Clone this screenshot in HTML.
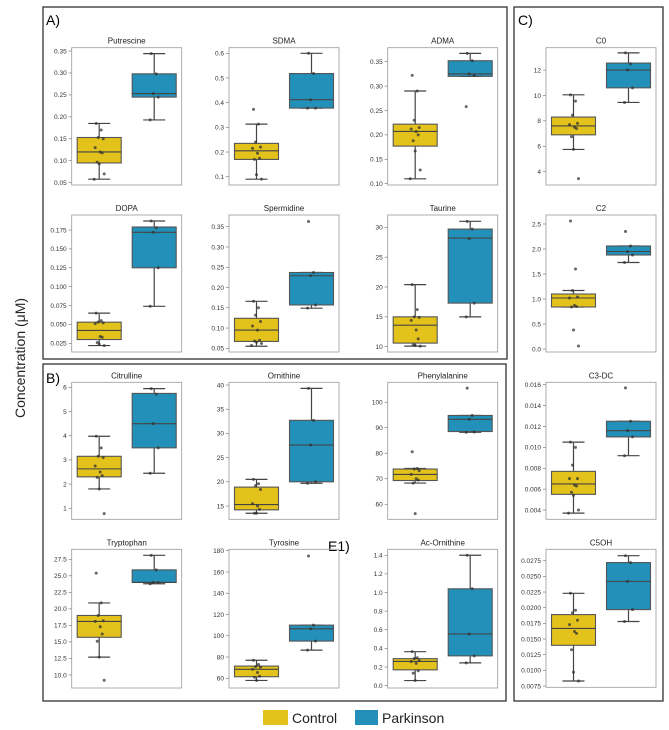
<!DOCTYPE html>
<html><head><meta charset="utf-8">
<style>
html,body{margin:0;padding:0;background:#fff;}
svg{display:block;font-family:"Liberation Sans","DejaVu Sans",sans-serif;}
</style></head>
<body>
<svg id="fig" width="669" height="730" viewBox="0 0 669 730" xmlns="http://www.w3.org/2000/svg">
  <rect x="43" y="7" width="464" height="352" fill="none" stroke="#333" stroke-width="1.3"/>
  <rect x="43" y="364" width="463" height="337" fill="none" stroke="#333" stroke-width="1.3"/>
  <rect x="514" y="7" width="149" height="694" fill="none" stroke="#333" stroke-width="1.3"/>
  <text x="46" y="25" font-size="14">A)</text>
  <text x="46" y="383" font-size="14">B)</text>
  <text x="518" y="25" font-size="14">C)</text>
  <text x="328" y="551" font-size="14">E1)</text>
  <text transform="translate(25,358) rotate(-90)" text-anchor="middle" font-size="14" fill="#222">Concentration (μM)</text>
  <rect x="263" y="710" width="25" height="15" fill="#e2c21b"/>
  <text x="292" y="723" font-size="14" fill="#222">Control</text>
  <rect x="355" y="710" width="23" height="15" fill="#2290b8"/>
  <text x="382" y="723" font-size="14" fill="#222">Parkinson</text>
  <g id="plots"></g>
</svg>
<script>
// ---- data: box stats [whiskerLow, q1, median, q3, whiskerHigh], points, ticks ----
const putC=[0.058,0.095,0.12,0.153,0.185];
const putCpts=[0.185,0.17,0.153,0.15,0.13,0.12,0.118,0.097,0.093,0.07,0.058];
const putP=[0.193,0.245,0.253,0.298,0.344];
const putPpts=[0.344,0.298,0.253,0.245,0.193];
const putTicks=[0.05,0.10,0.15,0.20,0.25,0.30,0.35];

const sdmaC=[0.09,0.17,0.205,0.235,0.313];
const sdmaCpts=[0.373,0.313,0.24,0.22,0.215,0.195,0.175,0.17,0.108,0.09];
const sdmaP=[0.378,0.378,0.412,0.518,0.6];
const sdmaPpts=[0.6,0.518,0.412,0.378,0.378];
const sdmaTicks=[0.1,0.2,0.3,0.4,0.5,0.6];

const admaC=[0.11,0.177,0.207,0.222,0.29];
const admaCpts=[0.322,0.29,0.23,0.215,0.212,0.207,0.2,0.188,0.167,0.128,0.11];
const admaP=[0.32,0.32,0.325,0.352,0.367];
const admaPpts=[0.367,0.352,0.325,0.322,0.258];
const admaTicks=[0.10,0.15,0.20,0.25,0.30,0.35];

const dopaC=[0.022,0.03,0.042,0.053,0.065];
const dopaCpts=[0.065,0.055,0.053,0.052,0.051,0.034,0.033,0.026,0.024,0.022];
const dopaP=[0.074,0.125,0.172,0.179,0.187];
const dopaPpts=[0.187,0.178,0.172,0.125,0.074];
const dopaTicks=[0.025,0.050,0.075,0.100,0.125,0.150,0.175];

const sperC=[0.055,0.067,0.095,0.124,0.166];
const sperCpts=[0.166,0.15,0.132,0.116,0.105,0.095,0.07,0.068,0.065,0.062,0.057];
const sperP=[0.149,0.157,0.229,0.237,0.237];
const sperPpts=[0.363,0.237,0.229,0.157,0.149];
const sperTicks=[0.05,0.10,0.15,0.20,0.25,0.30,0.35];

const taurC=[10.1,10.6,13.6,15,20.4];
const taurCpts=[20.4,16.2,15,14.9,14.4,12.8,11.3,10.3,10.2,10.1];
const taurP=[15.0,17.3,28.2,29.7,31.0];
const taurPpts=[31.0,29.7,28.1,17.3,15.0];
const taurTicks=[10,15,20,25,30];

const citC=[1.8,2.3,2.63,3.15,3.98];
const citCpts=[3.98,3.5,3.15,3.1,2.75,2.5,2.35,2.28,1.8,0.78];
const citP=[2.45,3.5,4.5,5.75,5.95];
const citPpts=[5.95,5.72,4.5,3.5,2.45];
const citTicks=[1,2,3,4,5,6];

const ornC=[13.5,14.2,15.3,18.9,20.5];
const ornCpts=[20.5,19.6,19.2,18.4,15.5,15.0,14.3,13.5,13.5];
const ornP=[19.7,20.0,27.6,32.7,39.3];
const ornPpts=[39.3,32.7,27.6,20.0,19.7];
const ornTicks=[15,20,25,30,35,40];

const pheC=[68.3,69.3,71.7,73.8,74.0];
const pheCpts=[80.6,74.0,73.8,73.2,71.7,70.0,69.5,68.3,56.3];
const pheP=[88.2,88.5,93.3,94.8,94.8];
const phePpts=[105.5,94.8,93.3,88.3,88.2];
const pheTicks=[60,70,80,90,100];

const trpC=[12.7,15.7,18.1,19.0,20.9];
const trpCpts=[25.4,20.9,19.0,18.2,18.1,17.3,16.2,15.1,12.7,9.2];
const trpP=[23.8,24.0,24.0,25.9,28.1];
const trpPpts=[28.1,25.9,24.0,24.0,23.8];
const trpTicks=[10.0,12.5,15.0,17.5,20.0,22.5,25.0,27.5];

const tyrC=[58,61.5,68.5,71.5,77];
const tyrCpts=[77,73,71,70.5,68.5,65.5,62,61,58];
const tyrP=[86.5,95,106.5,110,110];
const tyrPpts=[175,110,106.5,95,86.5];
const tyrTicks=[60,80,100,120,140,160,180];

const acoC=[0.055,0.17,0.26,0.29,0.365];
const acoCpts=[0.365,0.3,0.29,0.27,0.26,0.24,0.16,0.135,0.055];
const acoP=[0.245,0.32,0.555,1.04,1.4];
const acoPpts=[1.4,1.04,0.555,0.32,0.245];
const acoTicks=[0.0,0.2,0.4,0.6,0.8,1.0,1.2,1.4];

const c0C=[5.75,6.9,7.6,8.3,10.05];
const c0Cpts=[10.05,9.55,8.45,7.8,7.7,7.5,7.4,6.75,5.75,3.45];
const c0P=[9.45,10.6,12,12.55,13.35];
const c0Ppts=[13.35,12.5,12.0,10.6,9.45];
const c0Ticks=[4,6,8,10,12];

const c2C=[0.84,0.84,1.02,1.1,1.17];
const c2Cpts=[2.56,1.6,1.17,1.04,1.02,0.87,0.85,0.84,0.38,0.06];
const c2P=[1.73,1.88,1.95,2.06,2.06];
const c2Ppts=[2.35,2.06,1.95,1.88,1.73];
const c2Ticks=[0.0,0.5,1.0,1.5,2.0,2.5];

const c3C=[0.0037,0.0055,0.0065,0.0077,0.0105];
const c3Cpts=[0.0105,0.0100,0.0083,0.0070,0.0070,0.0064,0.0063,0.0057,0.0054,0.0040,0.0037];
const c3P=[0.0092,0.0110,0.0116,0.0125,0.0125];
const c3Ppts=[0.0157,0.0125,0.0116,0.0110,0.0092];
const c3Ticks=[0.004,0.006,0.008,0.010,0.012,0.014,0.016];

const c5C=[0.0083,0.014,0.0167,0.0189,0.0223];
const c5Cpts=[0.0223,0.0196,0.0192,0.018,0.0173,0.0162,0.0159,0.0133,0.0097,0.0083];
const c5P=[0.0178,0.0197,0.0242,0.0272,0.0283];
const c5Ppts=[0.0283,0.0272,0.0242,0.0197,0.0178];
const c5Ticks=[0.0075,0.0100,0.0125,0.0150,0.0175,0.0200,0.0225,0.0250,0.0275];

const NS="http://www.w3.org/2000/svg";
const plots=document.getElementById('plots');
function mk(tag,attrs,parent){const e=document.createElementNS(NS,tag);for(const k in attrs)e.setAttribute(k,attrs[k]);(parent||plots).appendChild(e);return e;}

// layout: [title, x0, x1, y0, y1, domainMin, domainMax, decimals, ...data]
const charts=[
 ["Putrescine",71.7,181.7,47.7,185,0.0448,0.3575,2,putC,putCpts,putP,putPpts,putTicks],
 ["SDMA",229,339,47.7,185,0.0664,0.6227,1,sdmaC,sdmaCpts,sdmaP,sdmaPpts,sdmaTicks],
 ["ADMA",387.7,497.7,47.7,185,0.0973,0.3787,2,admaC,admaCpts,admaP,admaPpts,admaTicks],
 ["DOPA",71.7,181.7,215,352,0.0135,0.1949,3,dopaC,dopaCpts,dopaP,dopaPpts,dopaTicks],
 ["Spermidine",229,339,215,352,0.0409,0.3789,2,sperC,sperCpts,sperP,sperPpts,sperTicks],
 ["Taurine",387.7,497.7,215,352,9.11,32.06,0,taurC,taurCpts,taurP,taurPpts,taurTicks],
 ["Citrulline",71.7,181.7,382.3,519.3,0.545,6.21,0,citC,citCpts,citP,citPpts,citTicks],
 ["Ornithine",229,339,382.3,519.3,12.25,40.56,0,ornC,ornCpts,ornP,ornPpts,ornTicks],
 ["Phenylalanine",387.7,497.7,382.3,519.3,54.1,107.8,0,pheC,pheCpts,pheP,phePpts,pheTicks],
 ["Tryptophan",71.7,181.7,549.3,688,8.03,29.01,1,trpC,trpCpts,trpP,trpPpts,trpTicks],
 ["Tyrosine",229,339,549.3,688,50.9,181.3,0,tyrC,tyrCpts,tyrP,tyrPpts,tyrTicks],
 ["Ac-Ornithine",387.7,497.7,549.3,688,-0.025,1.464,1,acoC,acoCpts,acoP,acoPpts,acoTicks],
 ["C0",546,656,47.7,185,2.95,13.76,0,c0C,c0Cpts,c0P,c0Ppts,c0Ticks],
 ["C2",546,656,215,352,-0.06,2.68,1,c2C,c2Cpts,c2P,c2Ppts,c2Ticks],
 ["C3-DC",546,656,382.3,519.3,0.00311,0.01623,3,c3C,c3Cpts,c3P,c3Ppts,c3Ticks],
 ["C5OH",546,656,549.3,687.3,0.0073,0.02932,4,c5C,c5Cpts,c5P,c5Ppts,c5Ticks]
];
const jit=[-3,2,-1,4,-4,1,3,-2,0,5,-5];

charts.forEach(ch=>{
  const [title,x0,x1,y0,y1,dmin,dmax,dec,cBox,cPts,pBox,pPts,ticks]=ch;
  const slug=title.toLowerCase().replace(/[^a-z0-9]+/g,'-');
  const g=mk('g',{});
  
  
  const y=v=>y1-(v-dmin)/(dmax-dmin)*(y1-y0);
  const w=x1-x0;
  const t=mk('text',{x:(x0+x1)/2,y:y0-4,'text-anchor':'middle','font-size':'8','fill':'#222'},g);
  t.textContent=title;
  
  
  ticks.forEach(v=>{
    const ty=y(v);
    const tl=mk('line',{x1:x0-3,x2:x0,y1:ty,y2:ty,stroke:'#666','stroke-width':0.6},g);
    
    
    const lb=mk('text',{x:x0-5,y:ty+2.3,'text-anchor':'end','font-size':'6.5','fill':'#333'},g);
    lb.textContent=v.toFixed(dec);
    
    
  });
  [[cBox,cPts,0.25,'#e2c21b','control'],[pBox,pPts,0.75,'#2290b8','parkinson']].forEach(([b,pts,f,col,nm])=>{
    const cx=x0+w*f, bw=w*0.4, cw=bw/2;
    const wl=mk('line',{x1:cx,x2:cx,y1:y(b[0]),y2:y(b[4]),stroke:'#444','stroke-width':1.2},g);
    
    
    [b[0],b[4]].forEach(v=>{
      const c=mk('line',{x1:cx-cw/2,x2:cx+cw/2,y1:y(v),y2:y(v),stroke:'#444','stroke-width':1.2},g);
      
      
    });
    const r=mk('rect',{x:cx-bw/2,y:y(b[3]),width:bw,height:Math.max(0.5,y(b[1])-y(b[3])),fill:col,stroke:'#555','stroke-width':1.1},g);
    
    
    const m=mk('line',{x1:cx-bw/2,x2:cx+bw/2,y1:y(b[2]),y2:y(b[2]),stroke:'#444','stroke-width':1.1},g);
    
    
    pts.forEach((v,i)=>{
      const p=mk('circle',{cx:cx+jit[i%jit.length],cy:y(v),r:1.5,fill:'#333','fill-opacity':0.75},g);
      
      
    });
  });
  const fr=mk('rect',{x:x0,y:y0,width:w,height:y1-y0,fill:'none',stroke:'#999','stroke-width':0.8},g);
  
  
});
</script>
</body></html>
